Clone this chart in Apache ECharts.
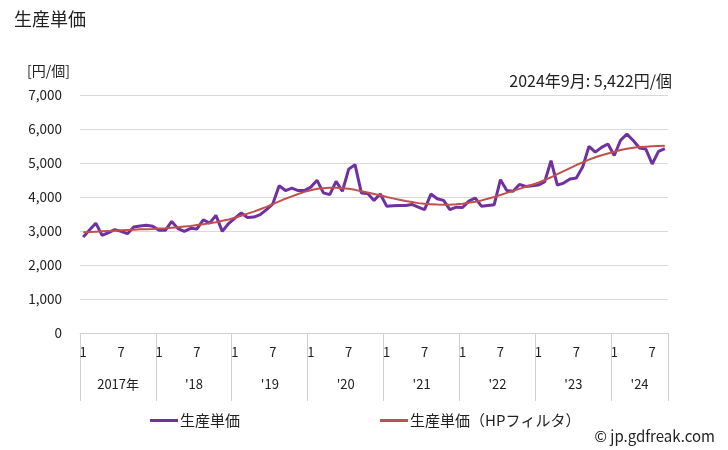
<!DOCTYPE html>
<html>
<head>
<meta charset="utf-8">
<script src="https://cdn.jsdelivr.net/npm/echarts@6/dist/echarts.min.js"></script>
<style>html,body{margin:0;padding:0;background:#fff}#c{width:728px;height:450px}</style>
</head>
<body>
<div id="c"></div>
<script>
const startYear = 2017;
const monthCount = 93; // Jan 2017 - Sep 2024
const unitPrice = [2820,3030,3230,2870,2950,3040,2990,2920,3120,3150,3170,3140,
  3020,3020,3280,3070,2990,3080,3060,3330,3230,3460,2990,3220,
  3380,3530,3400,3410,3480,3630,3800,4330,4190,4260,4190,4190,
  4290,4490,4120,4070,4460,4170,4820,4950,4120,4100,3900,4090,
  3730,3740,3750,3750,3780,3700,3630,4090,3950,3900,3630,3700,
  3690,3880,3970,3730,3750,3770,4510,4190,4170,4370,4310,4330,
  4350,4450,5070,4350,4410,4530,4560,4880,5490,5320,5460,5560,
  5220,5670,5850,5660,5440,5410,4970,5340,5422];
const hpTrend = [2960,2970,2980,2990,3000,3010,3020,3030,3040,3050,3055,3060,
  3070,3080,3095,3110,3130,3150,3175,3200,3230,3260,3300,3340,
  3390,3450,3510,3570,3640,3710,3790,3870,3950,4020,4090,4150,
  4200,4240,4260,4270,4270,4260,4240,4210,4170,4130,4090,4050,
  4000,3960,3920,3880,3850,3820,3800,3790,3780,3775,3775,3785,
  3800,3830,3860,3900,3950,4000,4060,4120,4180,4240,4300,4360,
  4420,4500,4580,4670,4760,4850,4940,5020,5100,5170,5230,5280,
  5330,5380,5420,5450,5470,5480,5490,5500,5510];
const yearLabels = ['2017年',"'18","'19","'20","'21","'22","'23","'24"];
const yTicks = [0,1000,2000,3000,4000,5000,6000,7000];

const categories = [];
for (let i = 0; i < monthCount; i++) {
  categories.push((startYear + Math.floor(i / 12)) + '-' + (i % 12 + 1));
}
// index where each year label is centred
const yearLabelIdx = {};
for (let y = 0; y < yearLabels.length; y++) {
  const first = y * 12;
  const n = Math.min(12, monthCount - first);
  yearLabelIdx[first + Math.floor(n / 2)] = { text: yearLabels[y], even: n % 2 === 0 };
}

const FONT = '"Noto Sans CJK JP", "Noto Sans", sans-serif';
const chart = echarts.init(document.getElementById('c'), null, { renderer: 'canvas' });
chart.setOption({
  animation: false,
  backgroundColor: '#fff',
  textStyle: { fontFamily: FONT },
  grid: { left: 80, right: 60, top: 95, bottom: 117 },
  title: [
    { text: '生産単価', left: 9, top: 5, textStyle: { fontSize: 18, fontWeight: 'normal', color: '#222', fontFamily: FONT } },
    { text: '[円/個]', left: 22, top: 59, textStyle: { fontSize: 14, fontWeight: 'normal', color: '#222', fontFamily: FONT } },
    { text: '2024年9月: 5,422円/個', right: 51, top: 68, textStyle: { fontSize: 16, fontWeight: 'normal', color: '#222', fontFamily: FONT } },
    { text: '© jp.gdfreak.com', right: 8, top: 424, textStyle: { fontSize: 15, fontWeight: 'normal', color: '#222', fontFamily: FONT } }
  ],
  legend: {
    left: 145, top: 408,
    itemWidth: 28, itemHeight: 3, itemGap: 140,
    icon: 'rect',
    textStyle: { fontSize: 15, color: '#222', fontFamily: FONT, padding: [0,0,0,-3] },
    data: ['生産単価', '生産単価（HPフィルタ）']
  },
  xAxis: [
    {
      type: 'category', data: categories, boundaryGap: true,
      axisLine: { show: true, lineStyle: { color: '#d0d0d0', width: 1 } },
      axisTick: { show: true, length: 68, interval: function (i) { return i % 12 === 0; }, lineStyle: { color: '#d0d0d0' } },
      axisLabel: {
        interval: 0, margin: 13, fontSize: 13, color: '#222', fontFamily: FONT,
        formatter: function (v, i) { const m = i % 12 + 1; return (m === 1 || m === 7) ? String(m) : ''; }
      }
    },
    {
      type: 'category', data: categories, boundaryGap: true, position: 'bottom',
      axisLine: { show: false }, axisTick: { show: false },
      axisLabel: {
        interval: 0, margin: 45, fontSize: 13, color: '#222', fontFamily: FONT,
        formatter: function (v, i) {
          const e = yearLabelIdx[i];
          if (!e) return '';
          return e.even ? '{s|' + e.text + '}' : e.text;
        },
        rich: { s: { fontSize: 13, color: '#222', fontFamily: FONT, padding: [0, 6, 0, 0] } }
      }
    }
  ],
  yAxis: {
    type: 'value', min: yTicks[0], max: yTicks[yTicks.length - 1], interval: 1000,
    axisLine: { show: false }, axisTick: { show: false },
    splitLine: { lineStyle: { color: '#d9d9d9', width: 1 } },
    axisLabel: {
      margin: 18, fontSize: 13.5, color: '#222', fontFamily: FONT,
      formatter: function (v) { return v.toLocaleString('en-US'); }
    }
  },
  series: [
    {
      name: '生産単価', type: 'line', data: unitPrice, symbol: 'none',
      lineStyle: { color: '#7030a0', width: 3 }, itemStyle: { color: '#7030a0' }, z: 3
    },
    {
      name: '生産単価（HPフィルタ）', type: 'line', data: hpTrend, symbol: 'none', smooth: false,
      lineStyle: { color: '#c0504d', width: 2 }, itemStyle: { color: '#c0504d' }, z: 4
    }
  ]
});
</script>
</body>
</html>
